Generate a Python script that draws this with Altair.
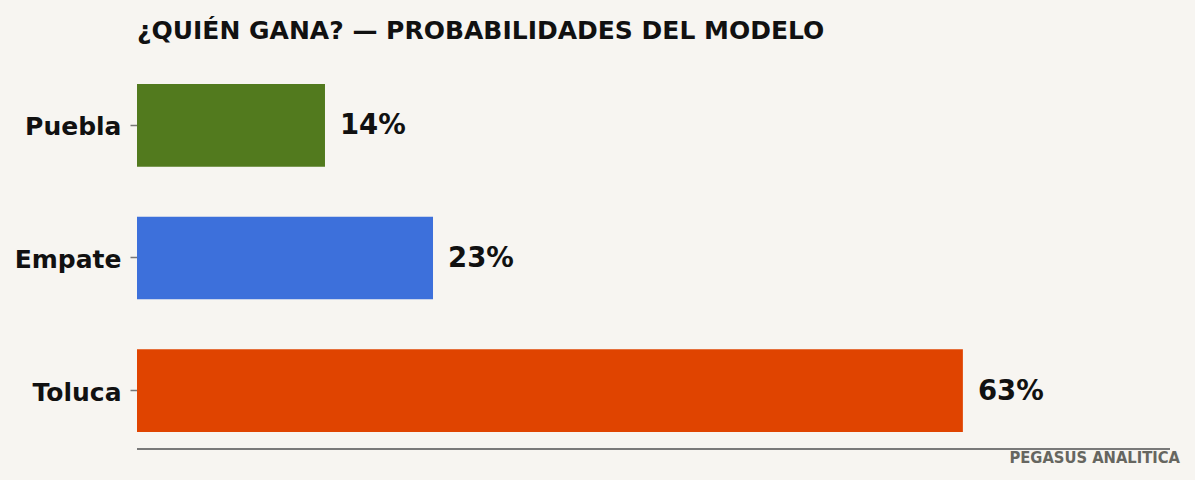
import altair as alt
import pandas as pd

categories = ["Puebla", "Empate", "Toluca"]
values = [14.34, 22.58, 63]
colors = ["#527a1e", "#3d70db", "#e04400"]
labels = ["14%", "23%", "63%"]
BG = "#f7f5f1"
df = pd.DataFrame({"c": categories, "v": values, "col": colors, "l": labels})
W, H = 1033, 382
FONT = "DejaVu Sans"
x = alt.X("v:Q", scale=alt.Scale(domain=[0, 78.8]), axis=None)
y = alt.Y("c:N", sort=categories, scale=alt.Scale(paddingInner=0.377, paddingOuter=0.128),
          title=None,
          axis=alt.Axis(labelFont=FONT, labelFontSize=25, labelFontWeight="bold", labelColor="#111111",
                        labelOffset=2, tickColor="#777777", tickSize=7, tickWidth=1.5, labelPadding=9,
                        domain=False, grid=False))
bars = alt.Chart(df).mark_bar().encode(x=x, y=y, color=alt.Color("col:N", scale=None))
text = alt.Chart(df).mark_text(align="left", baseline="middle", dx=15, dy=1, font=FONT, fontSize=27.5,
                               fontWeight="bold", color="#111111").encode(x=x, y=y, text="l:N")
baseline = alt.Chart(df).mark_rule(color="#777777", strokeWidth=1.5).encode(
    y=alt.value(H), x=alt.value(0), x2=alt.value(W))
foot = alt.Chart(pd.DataFrame({"t": ["PEGASUS ANALITICA"]})).mark_text(
    align="right", baseline="middle", font="DejaVu Sans Condensed", fontSize=16.4, fontWeight="bold", color="#666660"
).encode(x=alt.value(W + 10), y=alt.value(H + 9), text="t:N")
chart = (bars + text + baseline + foot).properties(
    width=W, height=H,
    background=BG,
    autosize=alt.AutoSizeParams(type="none"),
    padding={"left": 129, "top": 59, "right": 17, "bottom": 23},
    title=alt.TitleParams("¿QUIÉN GANA? — PROBABILIDADES DEL MODELO", anchor="start", frame="group", font=FONT,
                          fontSize=25, fontWeight="bold", color="#111111", offset=23),
).configure_view(stroke=None)
chart.save("out.html", embed_options={"renderer": "svg", "actions": False,
                                      "defaultStyle": "html,body{background:" + BG + ";}"})
